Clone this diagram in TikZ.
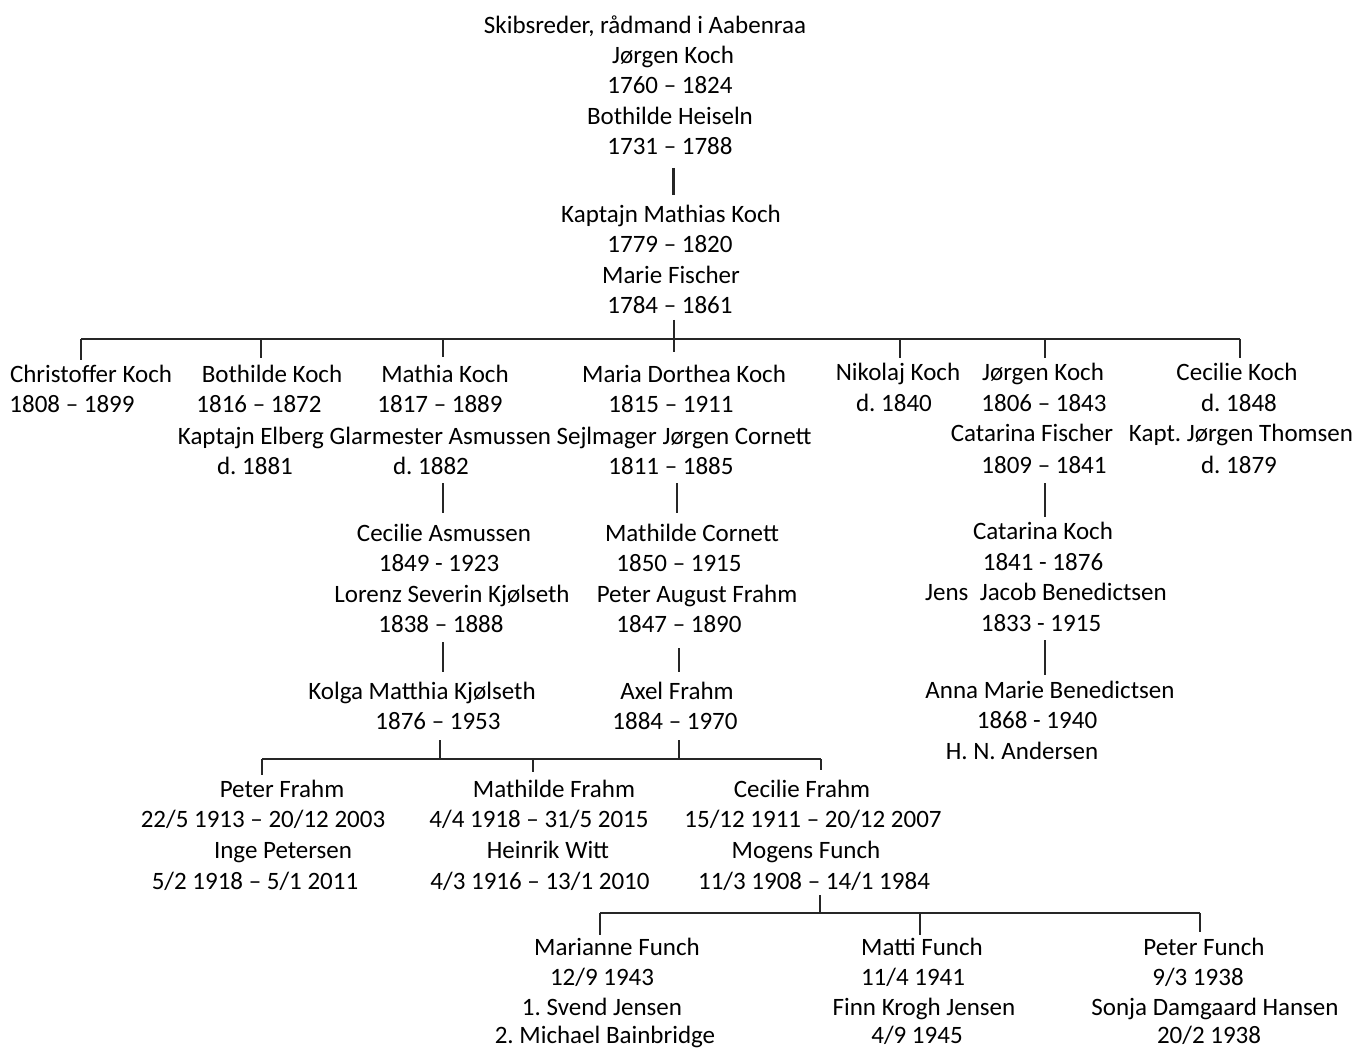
\documentclass[tikz,border=0pt]{standalone}
\usepackage{fontspec}
\setmainfont{Carlito}
\frenchspacing
\begin{document}
\begin{tikzpicture}[x=1pt,y=-1pt,
  txt/.style={anchor=base,inner sep=0pt,text=black,font=\fontsize{25}{30}\selectfont},
  link/.style={draw=black!85,line width=1.8pt},
  bar/.style={draw=black!85,line width=2.2pt}]
\useasboundingbox[fill=white] (0,0) rectangle (1355,1048);
\newcommand\tl[4]{\node[txt] (#1) at (#2,#3+8) {#4};}
% top
\tl{a1}{645}{26}{Skibsreder, rådmand i Aabenraa}
\tl{a2}{673}{56}{Jørgen Koch}
\tl{a3}{670}{86}{1760 – 1824}
\tl{a4}{670}{117}{Bothilde Heiseln}
\tl{a5}{670}{147}{1731 – 1788}
\tl{b1}{671}{215}{Kaptajn Mathias Koch}
\tl{b2}{670}{245}{1779 – 1820}
\tl{b3}{671}{276}{Marie Fischer}
\tl{b4}{670}{306}{1784 – 1861}
% row 2
\tl{c1}{91}{375}{Christoffer Koch}
\tl{c2}{72}{405}{1808 – 1899}
\tl{d1}{272}{375}{Bothilde Koch}
\tl{d2}{259}{405}{1816 – 1872}
\tl{d3}{255}{466}{d. 1881}
\tl{sp}{364.5}{436}{Kaptajn Elberg Glarmester Asmussen}
\tl{e1}{445}{375}{Mathia Koch}
\tl{e2}{440}{405}{1817 – 1889}
\tl{e4}{431}{466}{d. 1882}
\tl{f1}{684}{375}{Maria Dorthea Koch}
\tl{f2}{671}{405}{1815 – 1911}
\tl{f3}{684}{436}{Sejlmager Jørgen Cornett}
\tl{f4}{671}{466}{1811 – 1885}
\tl{g1}{898}{373}{Nikolaj Koch}
\tl{g2}{894}{404}{d. 1840}
\tl{h1}{1043}{373}{Jørgen Koch}
\tl{h2}{1044}{404}{1806 – 1843}
\tl{h3}{1032}{434}{Catarina Fischer}
\tl{h4}{1044}{465}{1809 – 1841}
\tl{i1}{1237}{373}{Cecilie Koch}
\tl{i2}{1239}{404}{d. 1848}
\tl{i3}{1241}{434}{Kapt. Jørgen Thomsen}
\tl{i4}{1239}{465}{d. 1879}
% row 3
\tl{j1}{444}{533}{Cecilie Asmussen}
\tl{j2}{439}{563}{1849 - 1923}
\tl{j3}{452}{594}{Lorenz Severin Kjølseth}
\tl{j4}{441}{624}{1838 – 1888}
\tl{k1}{692}{533}{Mathilde Cornett}
\tl{k2}{679}{563}{1850 – 1915}
\tl{k3}{697}{594}{Peter August Frahm}
\tl{k4}{679}{624}{1847 – 1890}
\tl{l1}{1043}{531}{Catarina Koch}
\tl{l2}{1043}{562}{1841 - 1876}
\tl{l3}{1046}{592}{Jens\ \ Jacob Benedictsen}
\tl{l4}{1041}{623}{1833 - 1915}
% row 4
\tl{m1}{422}{691}{Kolga Matthia Kjølseth}
\tl{m2}{438}{721}{1876 – 1953}
\tl{n1}{677}{691}{Axel Frahm}
\tl{n2}{675}{721}{1884 – 1970}
\tl{o1}{1050}{690}{Anna Marie Benedictsen}
\tl{o2}{1037}{720}{1868 - 1940}
\tl{o3}{1022}{751}{H. N. Andersen}
% row 5
\tl{p1}{282}{789}{Peter Frahm}
\tl{p2}{263}{819}{22/5 1913 – 20/12 2003}
\tl{p3}{283}{850}{Inge Petersen}
\tl{p4}{255}{881}{5/2 1918 – 5/1 2011}
\tl{q1}{554}{789}{Mathilde Frahm}
\tl{q2}{539}{819}{4/4 1918 – 31/5 2015}
\tl{q3}{548}{850}{Heinrik Witt}
\tl{q4}{540}{881}{4/3 1916 – 13/1 2010}
\tl{r1}{802}{789}{Cecilie Frahm}
\tl{r2}{813}{819}{15/12 1911 – 20/12 2007}
\tl{r3}{806}{850}{Mogens Funch}
\tl{r4}{814}{881}{11/3 1908 – 14/1 1984}
% row 6
\tl{s1}{617}{947}{Marianne Funch}
\tl{s2}{602}{977}{12/9 1943}
\tl{s3}{602}{1007}{1. Svend Jensen}
\tl{s4}{605}{1035}{2. Michael Bainbridge}
\tl{t1}{922}{947}{Matti Funch}
\tl{t2}{913}{977}{11/4 1941}
\tl{t3}{924}{1007}{Finn Krogh Jensen}
\tl{t4}{917}{1035}{4/9 1945}
\tl{u1}{1204}{947}{Peter Funch}
\tl{u2}{1198}{977}{9/3 1938}
\tl{u3}{1215}{1007}{Sonja Damgaard Hansen}
\tl{u4}{1209}{1035}{20/2 1938}
% coordinates
\coordinate (v1t) at (673,168); \coordinate (v1b) at (673,195);
\coordinate (v2t) at (674,320); \coordinate (v2b) at (674,352);
\coordinate (B1l) at (81,339); \coordinate (B1r) at (1240,339);
\coordinate (v3t) at (443,483); \coordinate (v3b) at (443,513);
\coordinate (v4t) at (677,483); \coordinate (v4b) at (677,513);
\coordinate (v5t) at (1045,483); \coordinate (v5b) at (1045,517);
\coordinate (v6t) at (443,642); \coordinate (v6b) at (443,672);
\coordinate (v7t) at (679,648); \coordinate (v7b) at (679,672);
\coordinate (v8t) at (1045,640); \coordinate (v8b) at (1045,675);
\coordinate (v9t) at (440,740); \coordinate (v10t) at (679,740);
\coordinate (B2l) at (262,759); \coordinate (B2r) at (821,759);
\coordinate (v11t) at (820,895);
\coordinate (B3l) at (600,913); \coordinate (B3r) at (1200,913);
% connectors
\draw[link,line width=3pt] (v1t) -- (v1b);
\draw[link] (v2t) -- (v2b);
\draw[bar] (B1l) -- (B1r);
\foreach \x/\e in {81/360,261/358,443/357,900/358,1045/358,1240/358}
  \draw[link] (\x,339) -- (\x,\e);
\draw[link] (v3t) -- (v3b);
\draw[link] (v4t) -- (v4b);
\draw[link] (v5t) -- (v5b);
\draw[link] (v6t) -- (v6b);
\draw[link] (v7t) -- (v7b);
\draw[link] (v8t) -- (v8b);
\draw[link] (v9t) -- (v9t |- B2l);
\draw[link,line width=2.6pt] (v10t) -- (v10t |- B2l);
\draw[bar] (B2l) -- (B2r);
\foreach \x/\e in {262/775,533/772,821/770}
  \draw[link] (\x,759) -- (\x,\e);
\draw[link] (v11t) -- (v11t |- B3l);
\draw[bar] (B3l) -- (B3r);
\foreach \x/\e in {600/935,920/935,1200/932}
  \draw[link] (\x,913) -- (\x,\e);
\end{tikzpicture}
\end{document}
